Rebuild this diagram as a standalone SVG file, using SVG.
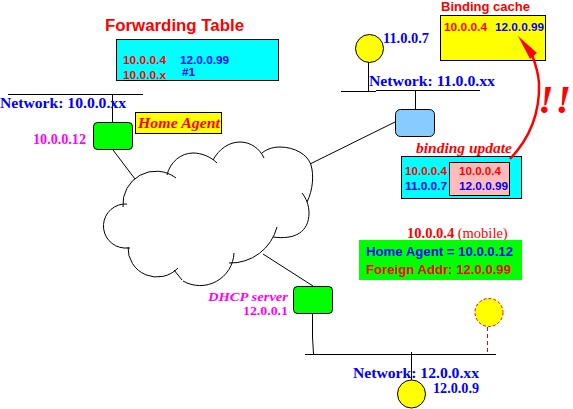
<svg xmlns="http://www.w3.org/2000/svg" width="573" height="409" viewBox="0 0 573 409">
<style>
.sa{font-family:"Liberation Sans",Arial,sans-serif;font-weight:bold}
.se{font-family:"Liberation Serif","Times New Roman",serif;font-weight:bold}
.i{font-style:italic}
.r{fill:#f00}.b{fill:#00f}.m{fill:#f0f}
.ln{stroke:#000;stroke-width:1;fill:none}
.box{stroke:#000;stroke-width:1}
.t{font-size:11px}
</style>
<rect width="573" height="409" fill="#fff"/>
<g id="connectors">
<path class="ln" d="M8 94.500H143M112.500 94V123M113 150L135 179"/>
<path class="ln" d="M341 91.500H376M376 90.500H480M368.500 62V91M415.500 91V110M395 122L310 164"/>
<path class="ln" d="M263 254L313 286M312.500 313V337L313.500 354M305 354.500H496M411.500 352V382"/>
<path d="M487.500 327V353" stroke="#f00" stroke-dasharray="4 3" fill="none"/>
</g>
<g id="cloud">
<path class="ln" d="M123 207A33 33 0 0 1 176 178"/>
<path class="ln" d="M127 204A22 22 0 0 0 124 248H130"/>
<path class="ln" d="M128 247A29 29 0 0 0 178 268M174 270L182 280"/>
<path class="ln" d="M234 253A34 34 0 0 1 183 281"/>
<path class="ln" d="M229 263A48 48 0 0 0 277 227"/>
<path class="ln" d="M273 237C295 240 309 232 309 213C309 205 306 198 302 193"/>
<path class="ln" d="M262 153C268 148 275 147 280 147C295 147 308 155 311 165C314 175 313 190 307 202"/>
<path class="ln" d="M213 160C219 149 229 142 240 142C251 142 260 149 264 158"/>
<path class="ln" d="M167 175C170 162 181 153 193 153C202 153 211 157 217 163"/>
</g>
<g id="forwarding-table">
<text x="105" y="31" class="sa r" font-size="16" textLength="139" lengthAdjust="spacingAndGlyphs">Forwarding Table</text>
<rect x="116.500" y="39.500" width="162" height="41" fill="#0ff" class="box"/>
<text x="123" y="64" class="sa r t" textLength="43" lengthAdjust="spacingAndGlyphs">10.0.0.4</text>
<text x="180" y="64" class="sa b t" textLength="49" lengthAdjust="spacingAndGlyphs">12.0.0.99</text>
<text x="123" y="79" class="sa r t" textLength="43" lengthAdjust="spacingAndGlyphs">10.0.0.x</text>
<text x="182" y="76" class="sa b t" textLength="13" lengthAdjust="spacingAndGlyphs">#1</text>
</g>
<g id="home-agent">
<text x="0" y="108" class="se b" font-size="15.500" textLength="126" lengthAdjust="spacingAndGlyphs">Network: 10.0.0.xx</text>
<rect x="93.500" y="122.500" width="39" height="27" rx="4" fill="#0f0" class="box"/>
<text x="33" y="144" class="se m" font-size="14.500" textLength="53" lengthAdjust="spacingAndGlyphs">10.0.0.12</text>
<rect x="135.500" y="112.500" width="86" height="21" fill="#ff0" class="box"/>
<text x="138" y="128" class="se i r" font-size="15" textLength="82" lengthAdjust="spacingAndGlyphs">Home Agent</text>
</g>
<g id="host-11">
<circle cx="369.500" cy="48.500" r="14" fill="#ff0" class="box"/>
<text x="383" y="43" class="se b" font-size="14.500" textLength="46" lengthAdjust="spacingAndGlyphs">11.0.0.7</text>
<text x="369" y="86" class="se b" font-size="15.500" textLength="126" lengthAdjust="spacingAndGlyphs">Network: 11.0.0.xx</text>
</g>
<g id="router-11">
<rect x="395.500" y="109.500" width="39" height="27" rx="5" fill="#8cf" class="box"/>
</g>
<g id="binding-cache">
<text x="441" y="11" class="sa r" font-size="12" textLength="89" lengthAdjust="spacingAndGlyphs">Binding cache</text>
<rect x="440.500" y="15.500" width="105" height="45" fill="#ff0" class="box"/>
<text x="444" y="31" class="sa r t" textLength="43" lengthAdjust="spacingAndGlyphs">10.0.0.4</text>
<text x="495" y="31" class="sa b t" textLength="49" lengthAdjust="spacingAndGlyphs">12.0.0.99</text>
</g>
<g id="binding-update">
<text x="416" y="153" class="se i r" font-size="15" textLength="96" lengthAdjust="spacingAndGlyphs">binding update</text>
<rect x="401.500" y="156.500" width="120" height="42" fill="#0ff" class="box"/>
<rect x="449.500" y="162.500" width="60" height="33" fill="#fbb" class="box"/>
<text x="405" y="175" class="sa r t" textLength="42" lengthAdjust="spacingAndGlyphs">10.0.0.4</text>
<text x="405" y="190" class="sa b t" textLength="42" lengthAdjust="spacingAndGlyphs">11.0.0.7</text>
<text x="459" y="175" class="sa r t" textLength="42" lengthAdjust="spacingAndGlyphs">10.0.0.4</text>
<text x="459" y="190" class="sa b t" textLength="49" lengthAdjust="spacingAndGlyphs">12.0.0.99</text>
<path d="M510 159C530 138 540 112 539 83C538.500 74 536 65 531 52" fill="none" stroke="#f00" stroke-width="2.500"/>
<path d="M518 36L537 53L530 59Z" fill="#f00"/>
<text x="538" y="113" class="se i r" font-size="40" textLength="33">!!</text>
</g>
<g id="mobile-info">
<text x="407" y="238" class="se r" font-size="14.500">10.0.0.4 <tspan font-weight="normal">(mobile)</tspan></text>
<rect x="359" y="240" width="163" height="40" fill="#0f0"/>
<text x="366" y="256" class="sa b" font-size="13" textLength="147" lengthAdjust="spacingAndGlyphs">Home Agent = 10.0.0.12</text>
<text x="366" y="274" class="sa r" font-size="13" textLength="145" lengthAdjust="spacingAndGlyphs">Foreign Addr: 12.0.0.99</text>
</g>
<g id="dhcp">
<text x="208" y="300.500" class="se i m" font-size="13" textLength="80" lengthAdjust="spacingAndGlyphs">DHCP server</text>
<text x="243" y="315" class="se m" font-size="13" textLength="45" lengthAdjust="spacingAndGlyphs">12.0.0.1</text>
<rect x="293.500" y="286.500" width="39" height="27" rx="4" fill="#0f0" class="box"/>
</g>
<g id="mobile-host"><circle cx="489" cy="312.500" r="14" fill="#ff0" stroke="#f00" stroke-dasharray="3 2"/></g>
<g id="host-12">
<text x="353" y="378" class="se b" font-size="15.500" textLength="126" lengthAdjust="spacingAndGlyphs">Network: 12.0.0.xx</text>
<text x="433" y="393" class="se b" font-size="14.500" textLength="46" lengthAdjust="spacingAndGlyphs">12.0.0.9</text>
<circle cx="411.500" cy="394" r="14" fill="#ff0" class="box"/>
</g>
</svg>
